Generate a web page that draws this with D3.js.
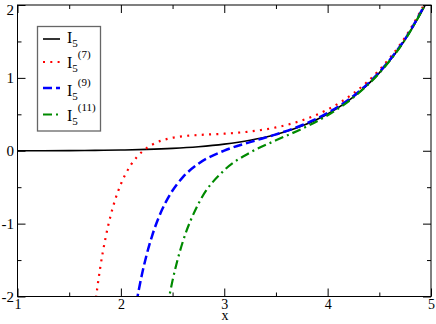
<!DOCTYPE html>
<html>
<head>
<meta charset="utf-8">
<script src="https://cdn.jsdelivr.net/npm/d3@7"></script>
<style>
  body { margin: 0; background: #fff; }
  text { font-family: "Liberation Serif", "DejaVu Serif", serif; fill: #000; }
</style>
</head>
<body>
<div id="chart"></div>
<script>
var w = 436; // Define width
var h = 324; // Define height
var plotLeft = 17.5, plotRight = 431, plotTop = 5, plotBottom = 296.5;

// I5 exact
var xI5 = [1, 1.25, 1.5, 1.75, 2, 2.25, 2.5, 2.75, 3, 3.25, 3.5, 3.75, 4, 4.25, 4.5, 4.75, 4.9, 5];
var yI5 = [0.0003, 0.0008, 0.0022, 0.0049, 0.0098, 0.0185, 0.0328, 0.0558, 0.0912, 0.1447, 0.224, 0.3393, 0.5047, 0.7393, 1.0683, 1.5261, 1.881, 2.158];

// I5 with 7 terms
var x7 = [1.75, 1.8, 1.85, 1.9, 1.95, 2, 2.1, 2.15, 2.2, 2.25, 2.3, 2.4, 2.45, 2.5, 2.55, 2.6, 2.75, 3, 3.25, 3.5, 3.75, 4, 4.25, 4.5, 4.75, 5];
var y7 = [-2.117, -1.606, -1.207, -0.895, -0.649, -0.457, -0.187, -0.094, -0.020, 0.037, 0.081, 0.143, 0.163, 0.179, 0.190, 0.200, 0.216, 0.234, 0.264, 0.320, 0.416, 0.566, 0.788, 1.108, 1.558, 2.185];

// 9 terms
var x9 = [2.15, 2.2, 2.25, 2.3, 2.4, 2.45, 2.5, 2.55, 2.6, 2.75, 3, 3.25, 3.5, 3.75, 4, 4.25, 4.5, 4.75, 5];
var y9 = [-2.085, -1.721, -1.423, -1.177, -0.804, -0.664, -0.545, -0.447, -0.362, -0.178, 0.002, 0.118, 0.224, 0.350, 0.518, 0.752, 1.080, 1.536, 2.167];

// 11 terms
var x11 = [2.45, 2.5, 2.55, 2.6, 2.75, 3, 3.25, 3.5, 3.75, 4, 4.25, 4.5, 4.75, 5];
var y11 = [-2.133, -1.779, -1.488, -1.245, -0.728, -0.267, -0.025, 0.143, 0.301, 0.487, 0.732, 1.066, 1.526, 2.159];

var xTicks = [1, 2, 3, 4, 5];
var xMinor = [1.5, 2.5, 3.5, 4.5];
var yTicks = [-2, -1, 0, 1, 2];
var yMinor = [-1.5, -0.5, 0.5, 1.5];

var series = [
    { name: "(7)", xs: x7, ys: y7, color: "#ff0000", width: 2.2, dash: "2,5.3" },
    { name: "(9)", xs: x9, ys: y9, color: "#0000ff", width: 2.5, dash: "9,4" },
    { name: "(11)", xs: x11, ys: y11, color: "#008a00", width: 2.2, dash: "9,4,2,4" }
];

// plain hyphen for negatives, like the original
function fmt(d) { return String(d); }

var xScale = d3.scaleLinear().domain([1, 5]).range([plotLeft, plotRight]);
var yScale = d3.scaleLinear().domain([-2, 2]).range([plotBottom, plotTop]);

var svg = d3.select("#chart")
    .append("svg")
    .attr("width", w)
    .attr("height", h);

svg.append("clipPath").attr("id", "clip")
    .append("rect")
    .attr("x", plotLeft).attr("y", plotTop)
    .attr("width", plotRight - plotLeft).attr("height", plotBottom - plotTop);

var line = d3.line()
    .x(function(d) { return xScale(d[0]); })
    .y(function(d) { return yScale(d[1]); })
    .curve(d3.curveMonotoneX);

var plot = svg.append("g").attr("clip-path", "url(#clip)");

plot.append("path")
    .attr("d", line(d3.zip(xI5, yI5)))
    .attr("fill", "none")
    .attr("stroke", "#000")
    .attr("stroke-width", 1.6);

series.forEach(function(s) {
    plot.append("path")
        .attr("d", line(d3.zip(s.xs, s.ys)))
        .attr("fill", "none")
        .attr("stroke", s.color)
        .attr("stroke-width", s.width)
        .attr("stroke-dasharray", s.dash);
});

// axes, ticks inward on all sides
function addAxis(axis, tx, ty) {
    var g = svg.append("g")
        .attr("transform", "translate(" + tx + "," + ty + ")")
        .call(axis);
    g.select(".domain").remove();
    g.selectAll("line").attr("stroke", "#000").attr("stroke-width", 1);
    return g;
}

var bx = addAxis(d3.axisBottom(xScale).tickValues(xTicks).tickSize(-8).tickFormat(fmt), 0, plotBottom);
addAxis(d3.axisBottom(xScale).tickValues(xMinor).tickSize(-4).tickFormat(""), 0, plotBottom);
addAxis(d3.axisTop(xScale).tickValues(xTicks).tickSize(-8).tickFormat(""), 0, plotTop);
addAxis(d3.axisTop(xScale).tickValues(xMinor).tickSize(-4).tickFormat(""), 0, plotTop);
var ly = addAxis(d3.axisLeft(yScale).tickValues(yTicks).tickSize(-8).tickFormat(fmt), plotLeft, 0);
addAxis(d3.axisLeft(yScale).tickValues(yMinor).tickSize(-4).tickFormat(""), plotLeft, 0);
addAxis(d3.axisRight(yScale).tickValues(yTicks).tickSize(-8).tickFormat(""), plotRight, 0);
addAxis(d3.axisRight(yScale).tickValues(yMinor).tickSize(-4).tickFormat(""), plotRight, 0);

bx.selectAll("text").attr("font-size", 14).attr("y", 12).attr("dy", 0);
ly.selectAll("text").attr("font-size", 15).attr("x", -3.5)
    .attr("dy", function(d) { return d === 2 ? "0.62em" : "0.34em"; });

// frame
svg.append("rect")
    .attr("x", plotLeft).attr("y", plotTop)
    .attr("width", plotRight - plotLeft).attr("height", plotBottom - plotTop)
    .attr("fill", "none")
    .attr("stroke", "#000")
    .attr("stroke-width", 1);

svg.append("text")
    .attr("x", 225)
    .attr("y", 319.5)
    .attr("text-anchor", "middle")
    .attr("font-size", 14)
    .text("x");

// legend
var legend = svg.append("g");
legend.append("rect")
    .attr("x", 37.5).attr("y", 26.5)
    .attr("width", 63).attr("height", 104.5)
    .attr("fill", "#fff")
    .attr("stroke", "#666")
    .attr("stroke-width", 1.3);

var legendItems = [{ name: "", color: "#000", width: 1.6, dash: null }].concat(series);
var rowY = [39, 62, 88, 114.5];
var baseY = [43, 68, 95.5, 121];

legendItems.forEach(function(s, i) {
    legend.append("line")
        .attr("x1", 43).attr("x2", 60)
        .attr("y1", rowY[i]).attr("y2", rowY[i])
        .attr("stroke", s.color)
        .attr("stroke-width", s.width)
        .attr("stroke-dasharray", s.dash);
    var t = legend.append("text")
        .attr("x", 67)
        .attr("y", baseY[i])
        .attr("font-size", 16);
    t.append("tspan").text("I");
    t.append("tspan").attr("font-size", 11).attr("dy", 4).text("5");
    if (s.name) {
        t.append("tspan").attr("font-size", 11).attr("dy", -14).text(s.name);
    }
});
</script>
</body>
</html>
